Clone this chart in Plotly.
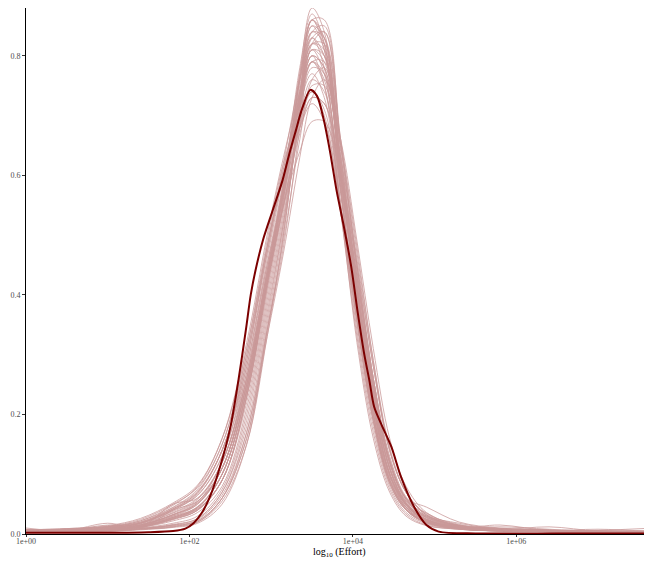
import plotly.graph_objects as go

# ── Observed density (log10 effort, density) ─────────────────────────────────
obs_log10 = [0, 0.5, 1.0, 1.5, 1.8, 1.95, 2.05, 2.15, 2.25, 2.38, 2.5, 2.6, 2.69,
             2.75, 2.81, 2.9, 3.02, 3.14, 3.22, 3.3, 3.38, 3.48, 3.56, 3.64, 3.72,
             3.8, 3.89, 3.98, 4.06, 4.14, 4.2, 4.26, 4.34, 4.47, 4.59, 4.75, 4.9,
             5.05, 5.5, 6.0, 7.0, 7.68]
obs_density = [0.002, 0.002, 0.002, 0.003, 0.005, 0.009, 0.018, 0.035, 0.062, 0.115,
               0.178, 0.258, 0.341, 0.40, 0.442, 0.492, 0.542, 0.592, 0.635, 0.674,
               0.712, 0.743, 0.733, 0.695, 0.64, 0.575, 0.514, 0.447, 0.37, 0.30,
               0.258, 0.213, 0.186, 0.146, 0.095, 0.045, 0.015, 0.004, 0.001, 0.001,
               0.001, 0.001]

# ── Replicated densities on a common grid ────────────────────────────────────
rep_log10 = [0, 0.5, 1.0, 1.4, 1.8, 2.1, 2.4, 2.7, 2.95, 3.15, 3.35, 3.5, 3.65,
             3.85, 4.05, 4.25, 4.45, 4.65, 4.9, 5.3, 5.8, 6.4, 7.0, 7.68]

rep_01 = [.004, .005, .008, .014, .030, .045, .10, .24, .42, .56, .76, .86, .83, .60, .40, .22, .10, .05, .022, .011, .007, .005, .004, .003]
rep_02 = [.006, .008, .012, .022, .045, .075, .15, .31, .49, .62, .70, .74, .70, .54, .32, .16, .07, .03, .014, .008, .005, .004, .003, .002]
rep_03 = [.003, .004, .006, .009, .015, .022, .06, .16, .34, .48, .68, .82, .84, .66, .48, .29, .14, .07, .032, .014, .009, .006, .004, .003]
rep_04 = [.008, .006, .015, .012, .050, .060, .12, .26, .44, .58, .72, .80, .78, .60, .41, .23, .11, .055, .035, .012, .015, .006, .008, .004]
rep_05 = [.004, .005, .007, .013, .028, .042, .09, .23, .41, .56, .77, .88, .84, .58, .36, .19, .085, .04, .018, .009, .005, .004, .003, .002]
rep_06 = [.005, .007, .010, .018, .040, .065, .13, .28, .46, .60, .73, .79, .76, .57, .37, .20, .09, .042, .02, .01, .006, .005, .004, .003]
rep_07 = [.003, .004, .005, .008, .013, .020, .055, .15, .33, .50, .71, .84, .85, .66, .45, .26, .12, .055, .024, .01, .006, .004, .003, .002]
rep_08 = [.005, .006, .009, .016, .035, .055, .11, .25, .42, .55, .68, .75, .75, .63, .46, .28, .14, .07, .032, .014, .009, .006, .004, .003]
rep_09 = [.004, .005, .007, .011, .025, .040, .09, .22, .40, .55, .74, .84, .82, .62, .42, .24, .11, .05, .022, .010, .012, .008, .004, .003]
rep_10 = [.006, .008, .012, .022, .048, .080, .16, .32, .50, .63, .74, .80, .75, .54, .33, .17, .075, .033, .015, .008, .005, .004, .003, .002]
rep_11 = [.004, .005, .006, .009, .014, .022, .06, .16, .33, .47, .63, .73, .76, .66, .49, .31, .16, .08, .036, .015, .009, .006, .004, .003]
rep_12 = [.005, .006, .009, .014, .030, .050, .11, .25, .43, .57, .72, .80, .78, .60, .40, .22, .10, .048, .024, .012, .007, .005, .006, .010]
rep_13 = [.003, .004, .006, .011, .024, .040, .09, .23, .42, .57, .76, .86, .81, .58, .36, .19, .085, .04, .019, .009, .005, .004, .003, .002]
rep_14 = [.007, .009, .013, .024, .050, .078, .15, .30, .47, .60, .69, .74, .71, .55, .37, .21, .10, .048, .023, .011, .007, .005, .004, .003]
rep_15 = [.002, .003, .004, .007, .011, .018, .05, .15, .34, .50, .72, .86, .86, .64, .41, .22, .10, .045, .02, .009, .005, .004, .003, .002]
rep_16 = [.006, .008, .012, .020, .042, .065, .13, .27, .43, .55, .64, .69, .69, .60, .45, .28, .14, .07, .034, .016, .009, .006, .005, .004]
rep_17 = [.004, .006, .009, .015, .032, .050, .11, .25, .43, .58, .74, .83, .80, .60, .39, .21, .095, .045, .022, .011, .007, .005, .004, .003]
rep_18 = [.003, .004, .006, .009, .015, .026, .07, .19, .37, .52, .69, .79, .79, .63, .44, .26, .125, .06, .028, .013, .008, .006, .004, .003]
rep_19 = [.006, .007, .010, .018, .042, .070, .14, .29, .47, .61, .73, .79, .75, .55, .35, .19, .09, .042, .02, .01, .006, .005, .004, .003]
rep_20 = [.004, .005, .007, .012, .026, .042, .09, .23, .42, .58, .78, .87, .82, .58, .36, .19, .085, .04, .019, .009, .005, .004, .003, .002]
rep_21 = [.006, .008, .011, .018, .038, .060, .12, .26, .42, .55, .67, .73, .72, .60, .43, .26, .13, .062, .03, .014, .008, .006, .005, .004]
rep_22 = [.003, .004, .005, .008, .012, .020, .06, .17, .35, .51, .70, .82, .82, .65, .45, .26, .125, .058, .026, .011, .007, .005, .004, .003]
rep_23 = [.005, .006, .009, .015, .032, .052, .11, .25, .43, .57, .71, .78, .77, .60, .41, .23, .11, .052, .025, .012, .007, .005, .004, .003]
rep_24 = [.005, .006, .010, .018, .040, .068, .14, .29, .48, .62, .76, .83, .78, .55, .34, .18, .08, .036, .017, .008, .005, .004, .003, .002]
rep_25 = [.004, .005, .008, .013, .028, .046, .10, .24, .42, .57, .73, .81, .79, .61, .41, .23, .105, .05, .024, .011, .007, .005, .004, .003]
rep_26 = [.003, .004, .005, .008, .012, .024, .065, .17, .34, .49, .66, .76, .78, .65, .47, .29, .145, .07, .032, .014, .008, .006, .004, .003]
rep_27 = [.004, .005, .007, .012, .026, .044, .10, .24, .43, .58, .76, .85, .81, .60, .38, .20, .09, .042, .02, .009, .006, .004, .003, .002]
rep_28 = [.007, .009, .014, .026, .052, .082, .16, .31, .48, .60, .68, .72, .69, .54, .36, .21, .10, .05, .024, .012, .008, .006, .005, .004]
rep_29 = [.010, .006, .018, .010, .040, .055, .11, .25, .43, .57, .73, .82, .80, .61, .40, .22, .10, .05, .03, .018, .008, .012, .005, .006]
rep_30 = [.004, .005, .007, .011, .022, .036, .08, .21, .39, .54, .73, .84, .83, .63, .42, .23, .11, .05, .022, .01, .006, .004, .003, .002]
rep_31 = [.005, .007, .010, .017, .036, .058, .12, .27, .45, .59, .74, .81, .77, .57, .37, .20, .09, .045, .028, .012, .007, .006, .004, .003]
rep_32 = [.003, .004, .006, .010, .018, .030, .075, .20, .38, .53, .71, .81, .80, .62, .43, .25, .12, .058, .027, .012, .007, .005, .004, .003]
rep_33 = [.006, .007, .011, .019, .042, .070, .14, .28, .45, .57, .68, .73, .72, .58, .41, .25, .12, .06, .03, .014, .008, .006, .005, .004]
rep_34 = [.004, .005, .008, .013, .027, .044, .10, .24, .43, .59, .77, .86, .82, .59, .37, .20, .09, .042, .02, .009, .006, .004, .003, .002]
rep_35 = [.005, .006, .009, .015, .032, .052, .11, .26, .44, .58, .72, .79, .77, .61, .43, .25, .12, .06, .045, .02, .01, .007, .005, .004]
rep_36 = [.003, .004, .006, .009, .016, .026, .07, .18, .36, .52, .71, .83, .84, .65, .44, .25, .115, .053, .023, .01, .006, .004, .003, .002]
rep_37 = [.006, .008, .012, .020, .044, .072, .14, .30, .48, .61, .72, .77, .73, .55, .36, .20, .095, .045, .022, .011, .007, .005, .004, .003]
rep_38 = [.004, .005, .007, .012, .025, .040, .09, .23, .41, .56, .73, .82, .81, .62, .42, .24, .11, .052, .024, .011, .007, .005, .004, .003]
rep_39 = [.005, .006, .009, .015, .033, .054, .12, .26, .44, .58, .70, .76, .74, .59, .41, .24, .12, .058, .028, .013, .008, .006, .004, .003]
rep_40 = [.004, .005, .007, .012, .028, .045, .10, .24, .42, .58, .75, .85, .83, .61, .40, .22, .10, .048, .022, .01, .006, .004, .003, .002]

replicates = [rep_01, rep_02, rep_03, rep_04, rep_05, rep_06, rep_07, rep_08, rep_09, rep_10,
              rep_11, rep_12, rep_13, rep_14, rep_15, rep_16, rep_17, rep_18, rep_19, rep_20,
              rep_21, rep_22, rep_23, rep_24, rep_25, rep_26, rep_27, rep_28, rep_29, rep_30,
              rep_31, rep_32, rep_33, rep_34, rep_35, rep_36, rep_37, rep_38, rep_39, rep_40]

tick_vals = [0, 2, 4, 6]
tick_text = ["1e+00", "1e+02", "1e+04", "1e+06"]

SERIF = "Liberation Serif, Times New Roman, DejaVu Serif, serif"

fig = go.Figure()

# light replicate lines
for yrep in replicates:
    fig.add_trace(
        go.Scatter(
            x=rep_log10, y=yrep,
            mode="lines",
            line=dict(color="rgb(202,152,152)", width=0.9, shape="spline", smoothing=1.0),
            opacity=0.85,
            showlegend=False, hoverinfo="skip",
        )
    )

# observed line on top
fig.add_trace(
    go.Scatter(
        x=obs_log10, y=obs_density,
        mode="lines",
        line=dict(color="#7C0000", width=2, shape="spline", smoothing=0.8),
        showlegend=False,
    )
)

fig.update_xaxes(
    range=[0, 7.66],
    tickvals=tick_vals, ticktext=tick_text,
    ticks="outside", ticklen=2, tickcolor="#333333",
    ticklabelstandoff=-3,
    showline=True, linecolor="black", linewidth=1,
    showgrid=False, zeroline=False,
    tickfont=dict(family=SERIF, size=8, color="#4D4D4D"),
    automargin=False,
)
fig.update_yaxes(
    range=[0, 0.88],
    tickvals=[0, 0.2, 0.4, 0.6, 0.8],
    ticktext=["0.0", "0.2", "0.4", "0.6", "0.8"],
    ticks="outside", ticklen=3, tickcolor="#333333",
    showline=True, linecolor="black", linewidth=1,
    showgrid=False, zeroline=False,
    tickfont=dict(family=SERIF, size=8, color="#4D4D4D"),
    automargin=False,
)

# x-axis title placed just under the tick labels
fig.add_annotation(
    text="log<sub>10</sub> (Effort)",
    xref="paper", yref="paper", x=0.5, y=0,
    xanchor="center", yanchor="top", yshift=-10,
    showarrow=False,
    font=dict(family=SERIF, size=10, color="black"),
)

# page body adds an 8px margin, so the figure is sized to fit inside the window
fig.update_layout(
    width=644, height=553,
    margin=dict(l=18, r=0, t=0, b=27),
    plot_bgcolor="white", paper_bgcolor="white",
)

fig.write_html("out.html")
